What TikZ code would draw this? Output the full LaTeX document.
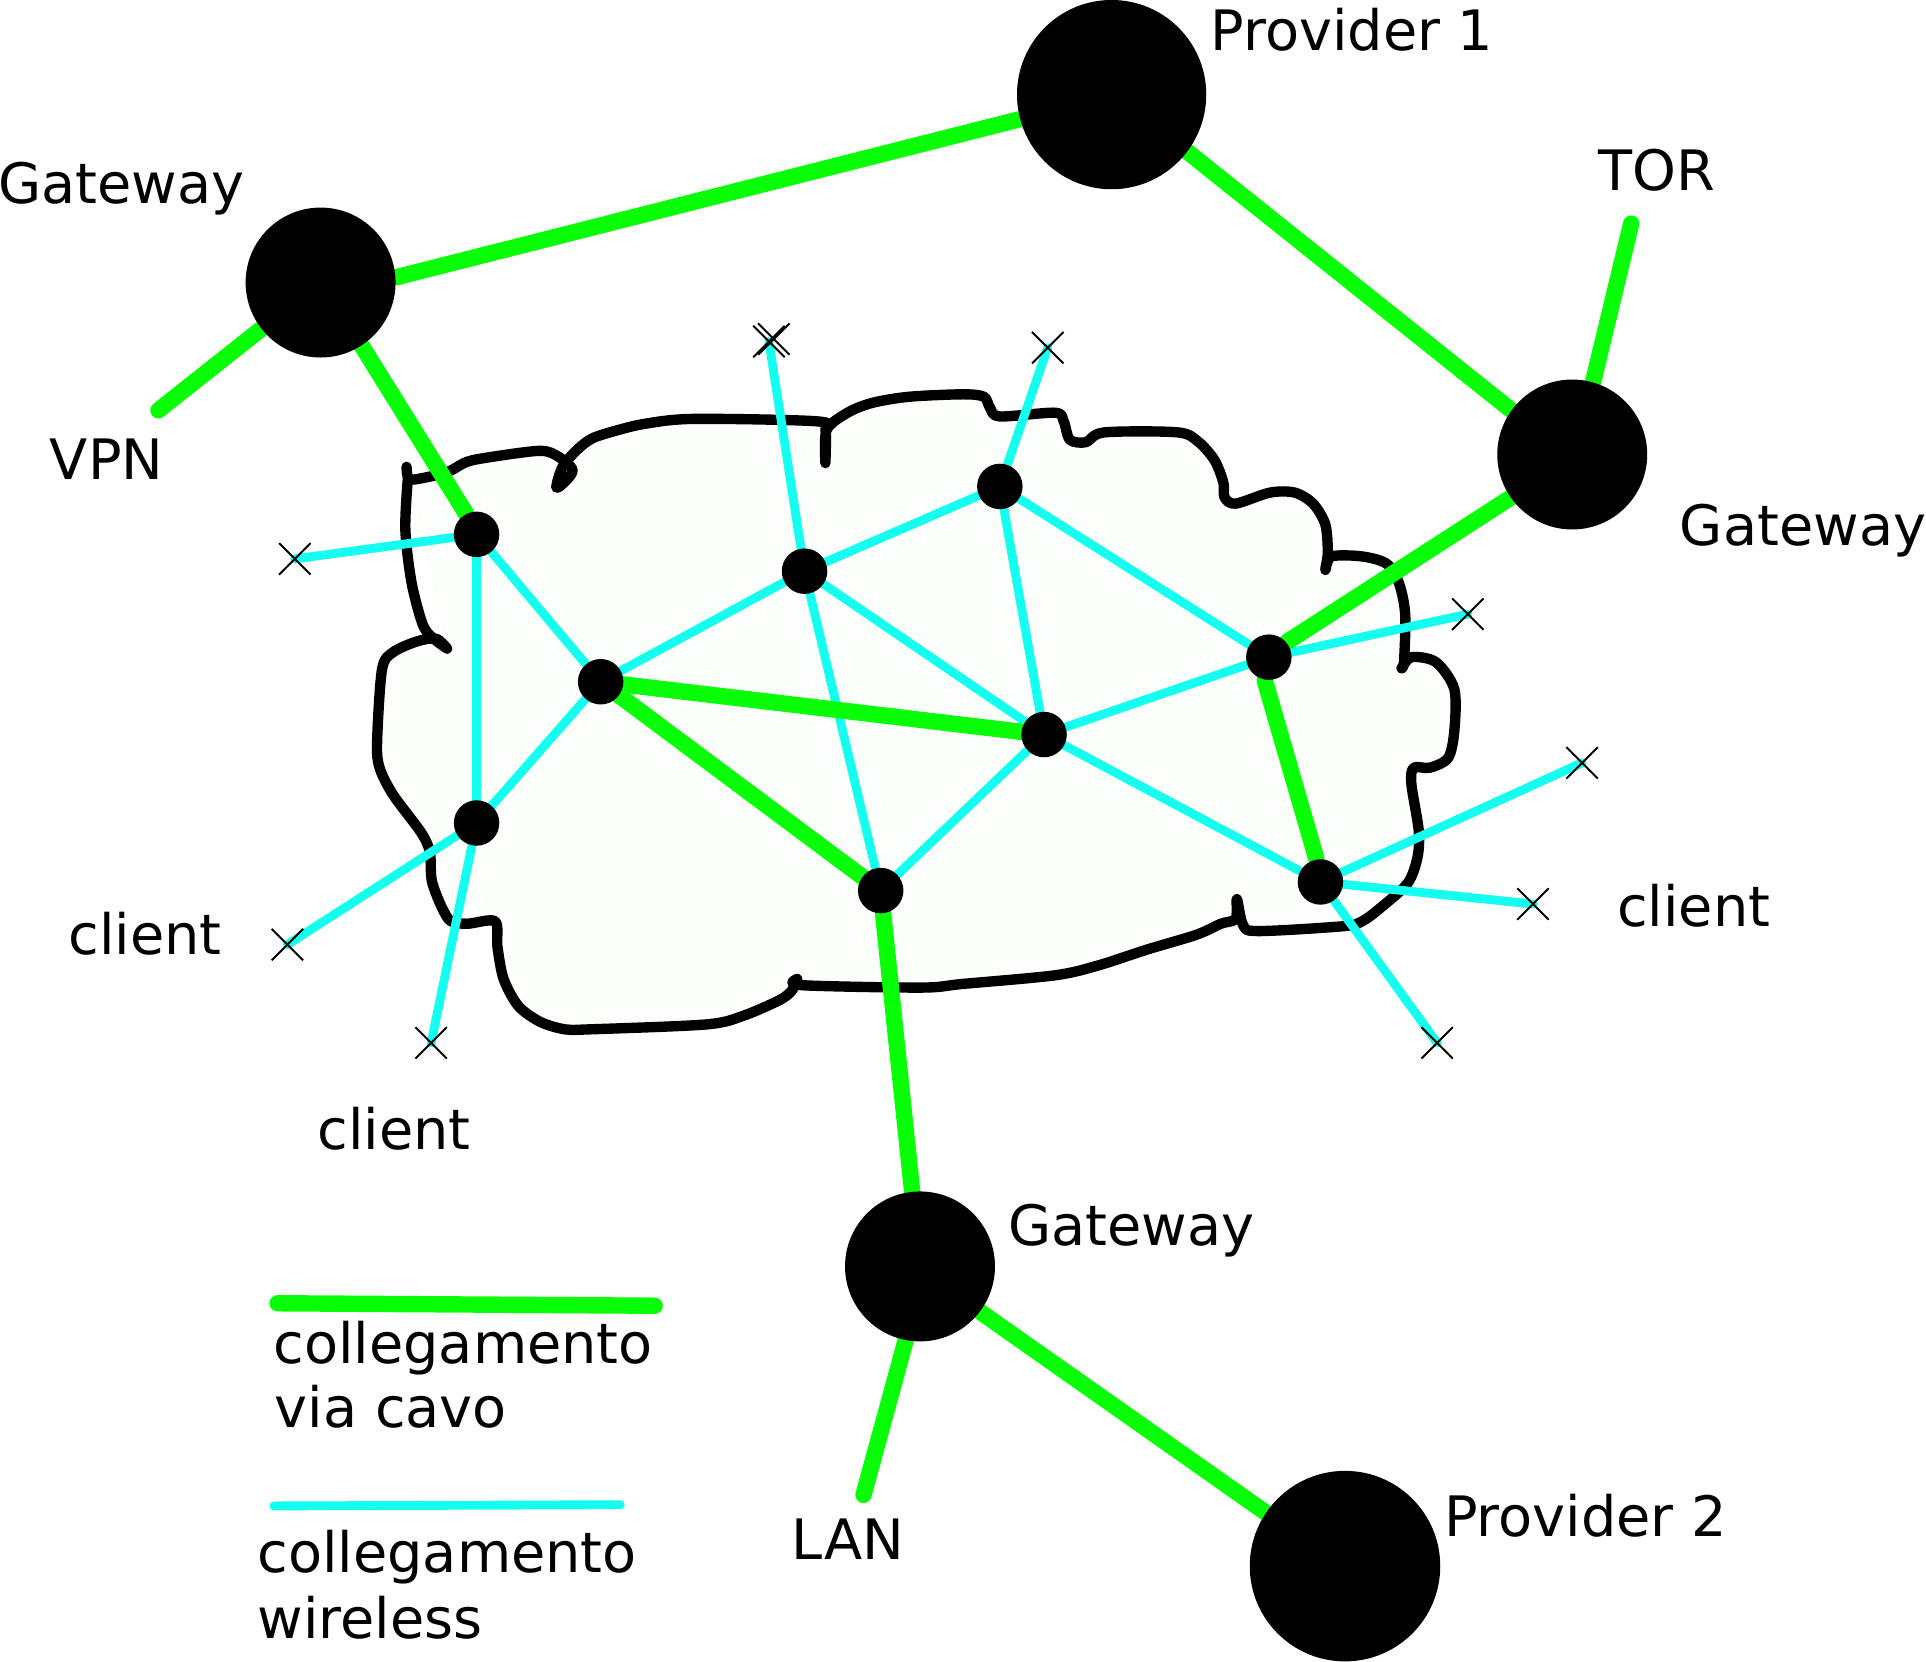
\documentclass[tikz,border=0pt]{standalone}
\usepackage{fontspec}
\setmainfont{DejaVu Sans}
\usetikzlibrary{shapes.misc}
\definecolor{wire}{RGB}{8,255,8}
\definecolor{wless}{RGB}{20,255,240}
\definecolor{cloudfill}{RGB}{252,254,252}
\pgfdeclarelayer{cloudlayer}
\pgfdeclarelayer{edgelayer}
\pgfsetlayers{cloudlayer,edgelayer,main}
\begin{document}
\begin{tikzpicture}[x=0.01cm,y=-0.01cm,
  bignode/.style={circle,fill=black,inner sep=0pt,minimum size=#1},
  smallnode/.style={circle,fill=black,inner sep=0pt,minimum size=0.37cm},
  xmark/.style={cross out,draw=black,line width=0.45pt,inner sep=0pt,minimum size=0.24cm},
  cable/.style={draw=wire,line width=3.8pt,line cap=round},
  radio/.style={draw=wless,line width=2.05pt,line cap=round},
  cloudline/.style={draw=black,line width=2.4pt,line cap=round,line join=round},
  lbl/.style={anchor=base west,inner sep=0pt,font=\fontsize{12.9}{15.1}\selectfont}]
\useasboundingbox (0,0) rectangle (1568,1353);

% big nodes
\node[bignode=1.54cm] (p1) at (905,77) {};
\node[bignode=1.55cm] (p2) at (1095,1275) {};
\node[bignode=1.22cm] (gw1) at (261,230) {};
\node[bignode=1.22cm] (gw2) at (1280,370) {};
\node[bignode=1.22cm] (gw3) at (749,1031) {};

% mesh nodes
\node[smallnode] (n1) at (388,435) {};
\node[smallnode] (n2) at (489,555) {};
\node[smallnode] (n3) at (655,465) {};
\node[smallnode] (n4) at (814,396) {};
\node[smallnode] (n5) at (850,598) {};
\node[smallnode] (n6) at (1033,535) {};
\node[smallnode] (n7) at (388,670) {};
\node[smallnode] (n8) at (717,725) {};
\node[smallnode] (n9) at (1075,718) {};

% client crosses
\node[xmark] (c1) at (240,455) {};
\node[xmark] (c2) at (626,278) {};
\node[xmark] (c2b) at (630,276) {};
\node[xmark] (c3) at (853,283) {};
\node[xmark] (c4) at (1195,500) {};
\node[xmark] (c5) at (1288,621) {};
\node[xmark] (c6) at (1248,736) {};
\node[xmark] (c7) at (1170,849) {};
\node[xmark] (c8) at (234,769) {};
\node[xmark] (c9) at (351,849) {};

% free ends
\coordinate (tor) at (1328,182);
\coordinate (vpn) at (129,334);
\coordinate (lan) at (703,1217);
\coordinate (lga) at (226,1061);
\coordinate (lgb) at (533,1063);
\coordinate (lca) at (223,1226);
\coordinate (lcb) at (505,1225);

% labels
\node[lbl] (tp1) at (985,41) {Provider 1};
\node[lbl] (tgw1) at (-2,166) {Gateway};
\node[lbl] (ttor) at (1301,155) {TOR};
\node[lbl] (tvpn) at (40,390) {VPN};
\node[lbl] (tgw2) at (1367,444) {Gateway};
\node[lbl] (tcl1) at (55,777) {client};
\node[lbl] (tcl2) at (258,936) {client};
\node[lbl] (tcl3) at (1316,754) {client};
\node[lbl] (tgw3) at (820,1014) {Gateway};
\node[lbl] (tp2) at (1175,1251) {Provider 2};
\node[lbl] (tlan) at (644,1270) {LAN};
\node[lbl] (tlg1) at (222,1110) {collegamento};
\node[lbl] (tlg2) at (223,1162) {via cavo};
\node[lbl] (tlc1) at (209,1280) {collegamento};
\node[lbl] (tlc2) at (209,1334) {wireless};

\begin{pgfonlayer}{cloudlayer}
\draw[cloudline,fill=cloudfill] plot[smooth,tension=0.5] coordinates {
 (331,380) (333,390) (345,389) (365,384) (380,376) (400,372) (440,367)
 (455,372) (466,382) (462,390) (453,397) (458,380) (470,366) (482,357)
 (500,351) (525,345) (565,341) (665,343) (672,350) (672,377) (673,350)
 (690,336) (710,328) (740,323) (784,321) (801,323) (806,332) (814,339)
 (859,336) (866,343) (871,358) (884,360) (899,352) (959,352) (976,360)
 (989,375) (996,393) (997,405) (1006,410) (1034,401) (1054,401) (1069,410)
 (1079,427) (1081,450) (1079,464) (1084,453) (1109,453) (1129,459)
 (1139,475) (1144,500) (1143,539) (1141,544) (1149,535) (1169,539)
 (1184,561) (1184,595) (1179,617) (1164,625) (1151,625) (1149,638)
 (1155,676) (1154,698) (1146,719) (1124,739) (1109,750) (1094,754)
 (1024,758) (1012,753) (1007,732) (1006,748) (994,752) (974,761)
 (934,773) (894,786) (859,794) (784,801) (750,804) (652,802) (649,797)
 (645,806) (635,814) (605,827) (575,834) (480,838) (460,838) (440,832)
 (422,819) (410,797) (405,771) (403,750) (380,752) (365,748) (352,719)
 (350,694) (343,678) (320,647) (309,625) (307,604) (311,545) (320,531)
 (340,522) (355,520) (364,528)};
\draw[cloudline] plot[smooth,tension=0.5] coordinates {
 (332,390) (330,431) (335,474) (344,508) (352,519) (364,528)};
\end{pgfonlayer}

\begin{pgfonlayer}{edgelayer}
% wireless links
\draw[radio] (n1.center) -- (c1.center);
\draw[radio] (n1.center) -- (n7.center);
\draw[radio] (n1.center) -- (n2.center);
\draw[radio] (n7.center) -- (n2.center);
\draw[radio] (n2.center) -- (n3.center);
\draw[radio] (n3.center) -- (c2.center);
\draw[radio] (n3.center) -- (n4.center);
\draw[radio] (n3.center) -- (n5.center);
\draw[radio] (n3.center) -- (n8.center);
\draw[radio] (n4.center) -- (c3.center);
\draw[radio] (n4.center) -- (n5.center);
\draw[radio] (n4.center) -- (n6.center);
\draw[radio] (n5.center) -- (n6.center);
\draw[radio] (n5.center) -- (n8.center);
\draw[radio] (n5.center) -- (n9.center);
\draw[radio] (n6.center) -- (c4.center);
\draw[radio] (n9.center) -- (c5.center);
\draw[radio] (n9.center) -- (c6.center);
\draw[radio] (n9.center) -- (c7.center);
\draw[radio] (n7.center) -- (c8.center);
\draw[radio] (n7.center) -- (c9.center);
\draw[radio] (lca) -- (lcb);
% cable links
\draw[cable] (gw1.4) -- (p1.195);
\draw[cable] (p1.-37) -- (gw2.144);
\draw[cable] (gw2.74) -- (tor);
\draw[cable] (gw1.218) -- (vpn);
\draw[cable] (gw1.-57) -- (n1.117);
\draw[cable] (gw2.215) -- (n6.40);
\draw[cable] (n2.center) -- (n5.center);
\draw[cable] (n2.center) -- (n8.center);
\draw[cable] (n6.-100) -- (n9.100);
\draw[cable] (n8.center) -- (gw3.center);
\draw[cable] (gw3.-101) -- (lan);
\draw[cable] (gw3.-37) -- (p2.146);
\draw[cable] (lga) -- (lgb);
\end{pgfonlayer}
\end{tikzpicture}
\end{document}
